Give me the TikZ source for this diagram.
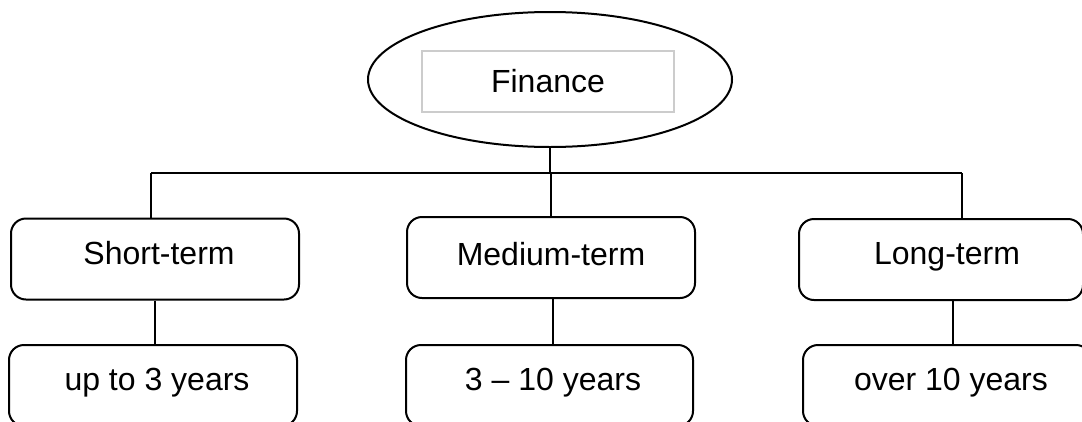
\documentclass[tikz,border=0pt]{standalone}
\usepackage{fontspec}
\setmainfont{Liberation Sans}
\usetikzlibrary{shapes.geometric}
\begin{document}
\begin{tikzpicture}[x=1pt,y=-1pt,
  line width=2pt,
  every node/.style={font=\fontsize{32}{38}\selectfont, inner sep=0pt},
  termbox/.style={draw, rounded corners=15pt, minimum height=81pt,
    text height=23pt, text depth=13pt},
  link/.style={line width=2pt}]
  \useasboundingbox (0,0) rectangle (1082,421);
  \clip (0,0) rectangle (1082,421);

  % root
  \node[ellipse, draw, minimum width=364pt, minimum height=135pt] (fin) at (550,79.5) {};
  \node[draw=black!20, line width=1.3pt, minimum width=252pt, minimum height=61pt,
        text height=23pt, text depth=2pt] (fintxt) at (548,81.5) {Finance};

  % terms
  \node[termbox, minimum width=288pt] (st) at (155,259) {\hspace*{8pt}Short-term};
  \node[termbox, minimum width=288pt, text depth=8pt] (md) at (551,257.5) {Medium-term};
  \node[termbox, minimum width=284pt] (lt) at (941,259.5) {\hspace*{12pt}Long-term};

  % durations
  \node[termbox, minimum width=288pt] (sd) at (153,385.5) {\hspace*{8pt}up to 3 years};
  \node[termbox, minimum width=287pt] (mdd) at (549.5,385.5) {\hspace*{7pt}3 -- 10 years};
  \node[termbox, minimum width=288pt] (ld) at (947,385.5) {\hspace*{8pt}over 10 years};

  % connectors
  \coordinate (bl) at (151,173);
  \coordinate (br) at (962,173);
  \coordinate (lc) at (953,300);
  \draw[link] (bl) -- (br);
  \draw[link] (fin.south) -- (fin.south |- bl);
  \draw[link] (bl) -- (bl |- st.north);
  \draw[link] (md.north) -- (md.north |- bl);
  \draw[link] (br) -- (br |- lt.north);

  \draw[link] (st.south) -- (st.south |- sd.north);
  \draw[link] ([xshift=2pt]md.south) -- ([xshift=2pt]md.south |- mdd.north);
  \draw[link] (lt.south -| lc) -- (lc |- ld.north);
\end{tikzpicture}
\end{document}
